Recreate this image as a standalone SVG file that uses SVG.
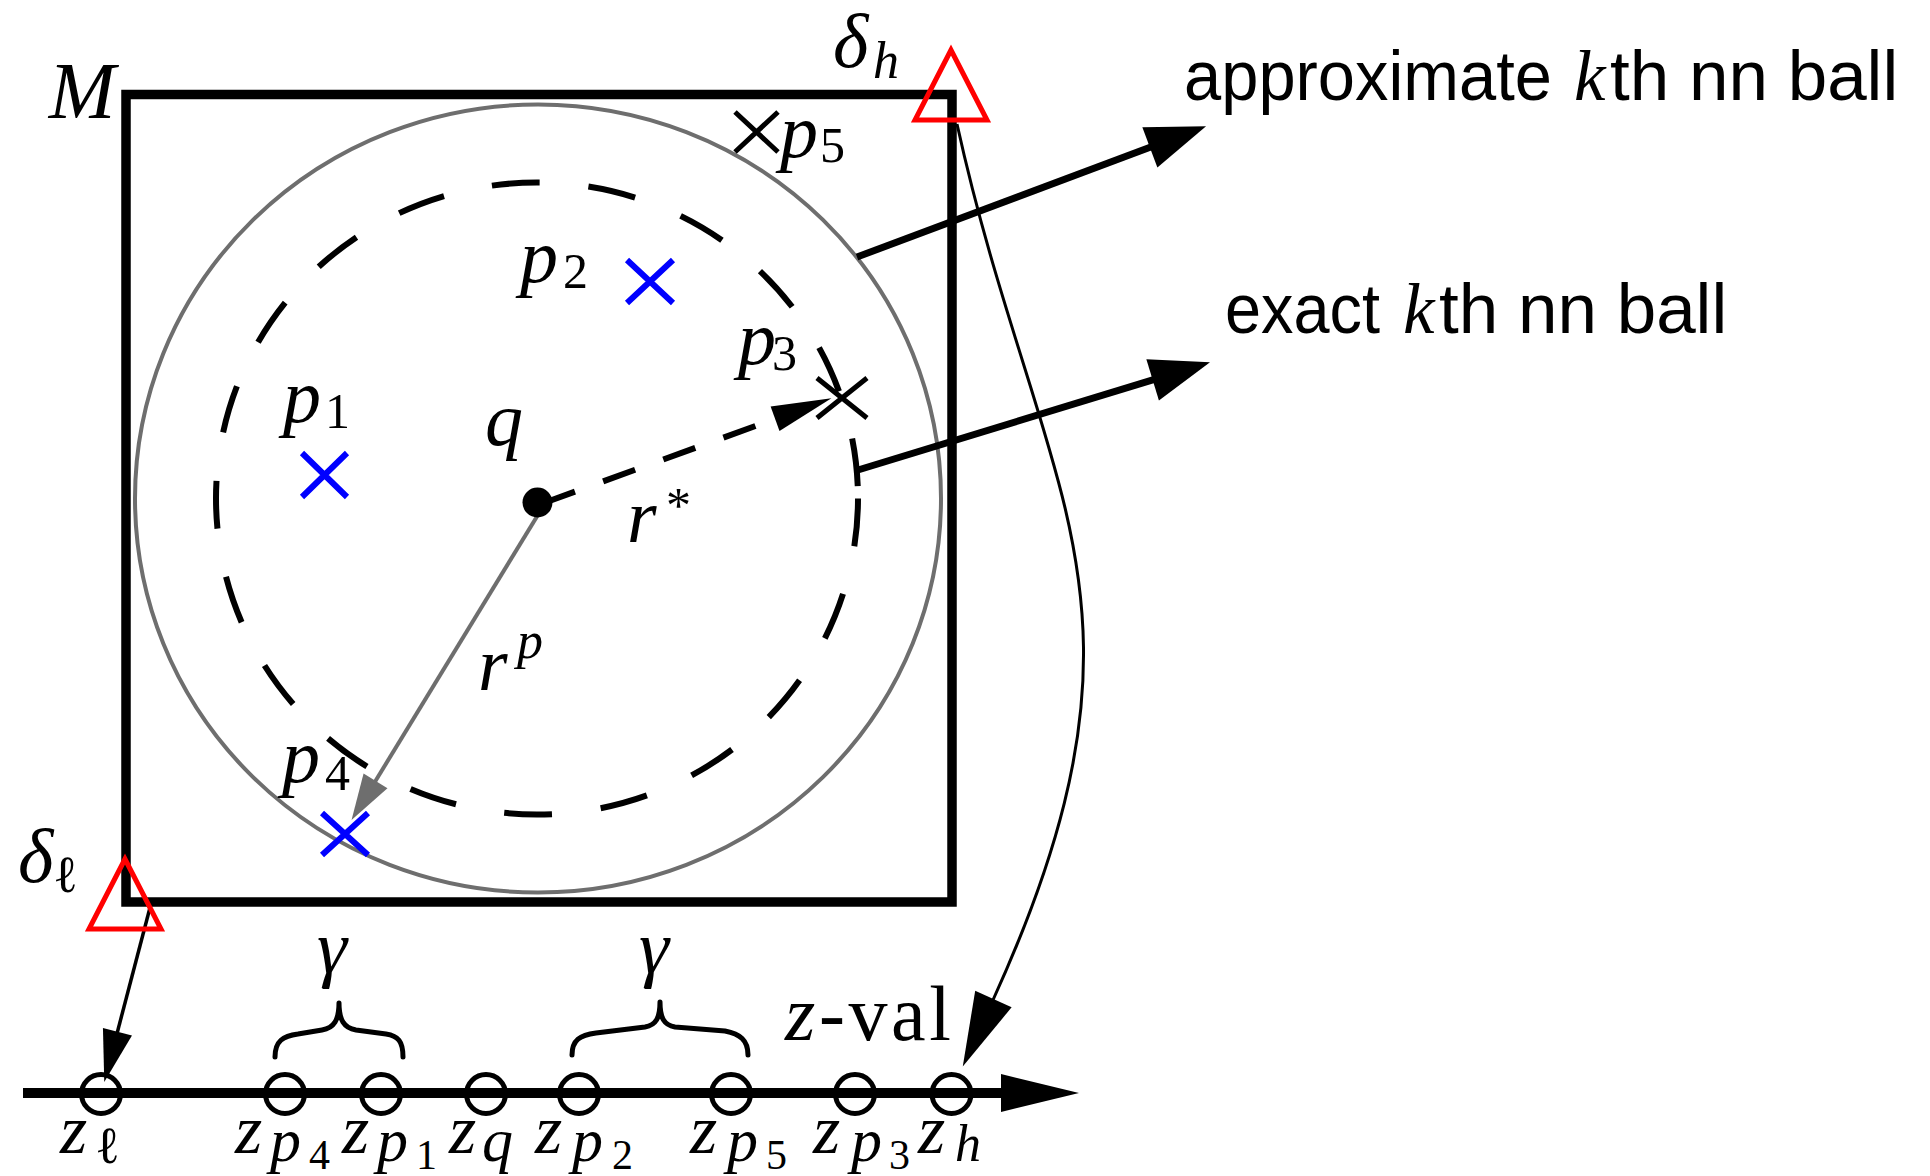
<svg xmlns="http://www.w3.org/2000/svg" width="1930" height="1176" viewBox="0 0 1930 1176">
<style>
.m{font-family:"Liberation Serif","DejaVu Serif",serif;font-style:italic;fill:#000}
.d{font-family:"Liberation Serif","DejaVu Serif",serif;font-style:normal;fill:#000}
.s{font-family:"Liberation Sans","DejaVu Sans",sans-serif;fill:#000}
.xb{stroke:#0000ff;stroke-width:6;fill:none}
.xk{stroke:#000;stroke-width:5;fill:none}
.tri{stroke:#ff0000;stroke-width:5;fill:none;stroke-linejoin:miter;stroke-miterlimit:10}
.zc{stroke:#000;stroke-width:5;fill:none}
.thick{stroke:#000;stroke-width:7;fill:none}
.thin{stroke:#000;stroke-width:3;fill:none}
.brace{stroke:#000;stroke-width:5;fill:none;stroke-linecap:round;stroke-linejoin:round}
.gray{stroke:#6e6e6e;fill:none}
</style>
<defs>
<marker id="ahBig" markerUnits="userSpaceOnUse" markerWidth="62" markerHeight="44" refX="1" refY="21.5" orient="auto" overflow="visible"><path d="M0,0 L60,21.5 L0,43 Z" fill="#000"/></marker>
<marker id="ahCurve" markerUnits="userSpaceOnUse" markerWidth="76" markerHeight="42" refX="1" refY="20" orient="auto" overflow="visible"><path d="M0,0 L74,20 L0,40 Z" fill="#000"/></marker>
<marker id="ahLeft" markerUnits="userSpaceOnUse" markerWidth="54" markerHeight="32" refX="1" refY="15" orient="auto" overflow="visible"><path d="M0,0 L52,15 L0,30 Z" fill="#000"/></marker>
<marker id="ahStar" markerUnits="userSpaceOnUse" markerWidth="62" markerHeight="28" refX="1" refY="13" orient="auto" overflow="visible"><path d="M0,0 L60,13 L0,26 Z" fill="#000"/></marker>
<marker id="ahGray" markerUnits="userSpaceOnUse" markerWidth="48" markerHeight="30" refX="1" refY="14" orient="auto" overflow="visible"><path d="M0,0 L46,14 L0,28 Z" fill="#6e6e6e"/></marker>
<marker id="ahAxis" markerUnits="userSpaceOnUse" markerWidth="80" markerHeight="40" refX="1" refY="19" orient="auto" overflow="visible"><path d="M0,0 L78,19 L0,38 Z" fill="#000"/></marker>
</defs>
<rect width="1930" height="1176" fill="#fff"/>

<g id="region-M">
<rect x="126" y="94.5" width="826" height="807.5" fill="none" stroke="#000" stroke-width="9.5"/>
<text class="m" x="82" y="118" font-size="80" text-anchor="middle">M</text>
</g>

<g id="ball-approx">
<ellipse class="gray" cx="538" cy="498.5" rx="403" ry="394" stroke-width="4"/>
</g>

<g id="ball-exact">
<path d="M858,498.5 A321,316 0 1 1 216,498.5 A321,316 0 1 1 858,498.5" fill="none" stroke="#000" stroke-width="6" stroke-dasharray="48 49"/>
</g>

<g id="connectors">
<line x1="857" y1="257" x2="1150.8" y2="147" class="thick" marker-end="url(#ahBig)"/>
<line x1="858" y1="470" x2="1153.6" y2="379.6" class="thick" marker-end="url(#ahBig)"/>
<path d="M957,124 C1040,500 1175,600 993,1000" class="thin" marker-end="url(#ahCurve)"/>
<line x1="152" y1="900" x2="117.2" y2="1032.7" stroke="#000" stroke-width="3.5" marker-end="url(#ahLeft)"/>
<line x1="543" y1="503.2" x2="776" y2="418.5" stroke="#000" stroke-width="6" stroke-dasharray="34 30" marker-end="url(#ahStar)"/>
<line x1="544" y1="505" x2="375" y2="781.7" class="gray" stroke-width="4" marker-end="url(#ahGray)"/>
</g>

<g id="q">
<circle cx="537.5" cy="502.5" r="15" fill="#000"/>
<text class="m" x="485" y="445" font-size="76">q</text>
</g>

<g id="r-star-label">
<text class="m" x="627" y="542" font-size="76">r<tspan class="d" x="666" y="522" font-size="50">*</tspan></text>
</g>

<g id="r-p-label">
<text class="m" x="478" y="690" font-size="76">r<tspan x="517" y="658" font-size="52">p</tspan></text>
</g>

<g id="p1">
<path class="xb" d="M302,453 L347,497 M302,497 L347,453"/>
<text class="m" x="283" y="422" font-size="76">p<tspan class="d" x="325" y="428" font-size="50">1</tspan></text>
</g>

<g id="p2">
<path class="xb" d="M627,260 L673,303 M627,303 L673,260"/>
<text class="m" x="520" y="282" font-size="76">p<tspan class="d" x="563" y="288" font-size="50">2</tspan></text>
</g>

<g id="p3">
<path class="xk" d="M817,378 L867,418 M817,418 L867,378"/>
<text class="m" x="738" y="364" font-size="76">p<tspan class="d" x="772" y="370" font-size="50">3</tspan></text>
</g>

<g id="p4">
<path class="xb" d="M322,813 L368,855 M322,855 L368,813"/>
<text class="m" x="282" y="782" font-size="76">p<tspan class="d" x="325" y="790" font-size="50">4</tspan></text>
</g>

<g id="p5">
<path class="xk" d="M735,112 L778,152 M735,152 L778,112"/>
<text class="m" x="780" y="157" font-size="76">p<tspan class="d" x="820" y="162" font-size="50">5</tspan></text>
</g>

<g id="delta-h">
<polygon class="tri" points="951,50 915,120 987,120"/>
<text class="m" x="833" y="67" font-size="76">δ<tspan x="873" y="78" font-size="52">h</tspan></text>
</g>

<g id="delta-l">
<polygon class="tri" points="125,859 89,929 161,929"/>
<text class="m" x="18" y="882" font-size="76">δ<tspan class="d" x="53" y="892" font-size="52">ℓ</tspan></text>
</g>

<g id="z-axis">
<line x1="23" y1="1093" x2="1002" y2="1093" stroke="#000" stroke-width="10" marker-end="url(#ahAxis)"/>
<text class="m" x="785" y="1040" font-size="78" textLength="166">z<tspan class="d">-val</tspan></text>
</g>

<g id="z-l">
<circle class="zc" cx="101" cy="1094" r="19.5"/>
<text class="m" x="60" y="1153" font-size="70">z<tspan class="d" x="95" y="1163" font-size="52">ℓ</tspan></text>
</g>
<g id="z-p4">
<circle class="zc" cx="285" cy="1094" r="19.5"/>
<text class="m" x="235" y="1153" font-size="70">z<tspan x="270" y="1161" font-size="62">p</tspan><tspan class="d" x="309" y="1169" font-size="42">4</tspan></text>
</g>
<g id="z-p1">
<circle class="zc" cx="381" cy="1094" r="19.5"/>
<text class="m" x="342" y="1153" font-size="70">z<tspan x="377" y="1161" font-size="62">p</tspan><tspan class="d" x="416" y="1169" font-size="42">1</tspan></text>
</g>
<g id="z-q">
<circle class="zc" cx="486" cy="1094" r="19.5"/>
<text class="m" x="449" y="1153" font-size="70">z<tspan x="482" y="1161" font-size="62">q</tspan></text>
</g>
<g id="z-p2">
<circle class="zc" cx="579" cy="1094" r="19.5"/>
<text class="m" x="535" y="1153" font-size="70">z<tspan x="572" y="1161" font-size="62">p</tspan><tspan class="d" x="612" y="1169" font-size="42">2</tspan></text>
</g>
<g id="z-p5">
<circle class="zc" cx="731" cy="1094" r="19.5"/>
<text class="m" x="690" y="1153" font-size="70">z<tspan x="727" y="1161" font-size="62">p</tspan><tspan class="d" x="766" y="1169" font-size="42">5</tspan></text>
</g>
<g id="z-p3">
<circle class="zc" cx="855" cy="1094" r="19.5"/>
<text class="m" x="813" y="1153" font-size="70">z<tspan x="851" y="1161" font-size="62">p</tspan><tspan class="d" x="889" y="1169" font-size="42">3</tspan></text>
</g>
<g id="z-h">
<circle class="zc" cx="951.5" cy="1094" r="19.5"/>
<text class="m" x="918" y="1153" font-size="70">z<tspan x="955" y="1161" font-size="52">h</tspan></text>
</g>

<g id="brace-1">
<path class="brace" d="M275,1057 C275,1041 283,1036 298,1034 L322,1030 C334,1028 339,1020 339,1003 C339,1020 344,1028 356,1030 L386,1034 C398,1036 403,1041 403,1057"/>
<text class="m" x="332" y="973" font-size="76" text-anchor="middle">γ</text>
</g>
<g id="brace-2">
<path class="brace" d="M572,1055 C572,1040 580,1035 596,1033 L645,1027 C656,1025 660,1018 660,1002 C660,1018 664,1025 675,1027 L725,1031 C740,1034 748,1040 748,1055"/>
<text class="m" x="654" y="973" font-size="76" text-anchor="middle">γ</text>
</g>

<g id="label-approx">
<text class="s" x="1184" y="100" font-size="71"><tspan textLength="368" lengthAdjust="spacingAndGlyphs">approximate</tspan><tspan class="m" x="1574">k</tspan><tspan x="1610">th nn ball</tspan></text>
</g>
<g id="label-exact">
<text class="s" x="1225" y="333" font-size="71"><tspan textLength="155" lengthAdjust="spacingAndGlyphs">exact</tspan><tspan class="m" x="1403">k</tspan><tspan x="1439">th nn ball</tspan></text>
</g>
</svg>
